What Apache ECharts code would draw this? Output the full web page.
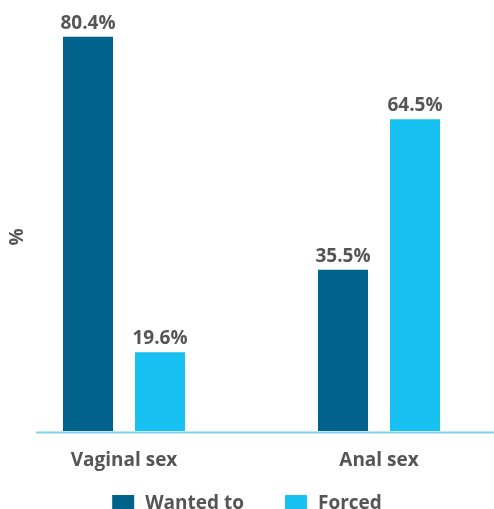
<!DOCTYPE html>
<html>
<head>
<meta charset="utf-8">
<script src="https://cdn.jsdelivr.net/npm/echarts@6.0.0/dist/echarts.min.js"></script>
<style>
html,body{margin:0;padding:0;background:#fff;}
#chart{width:494px;height:509px;}
</style>
</head>
<body>
<div id="chart"></div>
<script>
const categories = ['Vaginal sex', 'Anal sex'];
const wantedTo = [80.4, 35.5];
const forced = [19.6, 64.5];
const seriesNames = ['Wanted to', 'Forced'];
const axisName = '%';

const FONT = '"Open Sans", sans-serif';
const TXT = '#555555';
const YMIN = 4.4;
const chart = echarts.init(document.getElementById('chart'), null, {renderer: 'canvas'});

const labelCfg = {
  show: true, position: 'top', distance: 4,
  formatter: p => p.value.toFixed(1) + '%',
  fontFamily: FONT, fontWeight: 'bold', fontSize: 19, color: TXT
};

chart.setOption({
  animation: false,
  backgroundColor: '#ffffff',
  grid: {left: 124, right: 115, top: 0, bottom: 78, containLabel: false},
  legend: {
    data: seriesNames,
    left: 'center', top: 489,
    itemWidth: 22, itemHeight: 17, itemGap: 41,
    icon: 'rect',
    textStyle: {fontFamily: FONT, fontWeight: 'bold', fontSize: 19, color: TXT, padding: [0,0,0,6]}
  },
  xAxis: {
    type: 'category', data: categories, boundaryGap: false,
    axisLine: {show: false}, axisTick: {show: false}, splitLine: {show: false},
    axisLabel: {margin: 20, fontFamily: FONT, fontWeight: 'bold', fontSize: 19, color: TXT}
  },
  yAxis: {
    type: 'value', min: YMIN, max: 87.5, startValue: YMIN,
    show: false
  },
  series: [
    {name: seriesNames[0], type: 'bar', data: wantedTo, barWidth: 50, barGap: '44%', clip: false,
     itemStyle: {color: '#01628B'}, label: labelCfg},
    {name: seriesNames[1], type: 'bar', data: forced, barWidth: 50, barGap: '44%', clip: false,
     itemStyle: {color: '#17C2F2'}, label: labelCfg}
  ]
});

const baseY = chart.convertToPixel({yAxisIndex: 0}, YMIN);
chart.setOption({
  graphic: [
    {type: 'line', shape: {x1: 36, y1: baseY + 1.5, x2: 494, y2: baseY + 1.5},
     style: {stroke: '#84D0EE', lineWidth: 2}, silent: true},
    {type: 'text', x: 8, y: 237, rotation: Math.PI / 2, origin: [0, 0],
     style: {text: axisName, fontFamily: FONT, fontWeight: 'bold', fontSize: 19, fill: TXT,
             align: 'center', verticalAlign: 'top'}}
  ]
});
</script>
</body>
</html>
